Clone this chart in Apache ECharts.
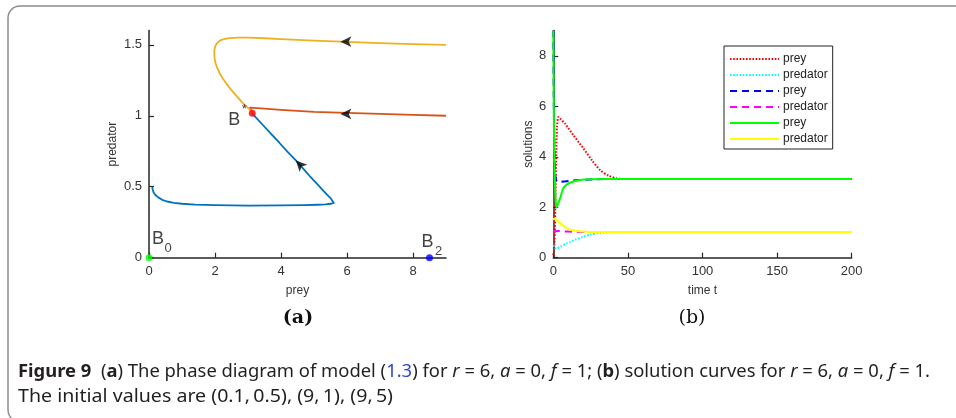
<!DOCTYPE html>
<html>
<head>
<meta charset="utf-8">
<script src="https://cdn.jsdelivr.net/npm/echarts@6/dist/echarts.min.js"></script>
<style>
  html, body { margin: 0; padding: 0; background: #fff; }
  #chart { width: 956px; height: 418px; }
</style>
</head>
<body>
<div id="chart"></div>
<script>
// ---------- (a) phase plane: trajectories as [prey, predator] ----------
const trajectoryLow = [
  [0.1, 0.5], [0.11, 0.48], [0.14, 0.46], [0.2, 0.44], [0.28, 0.425], [0.4, 0.408],
  [0.55, 0.396], [0.75, 0.387], [1.0, 0.38], [1.4, 0.374], [2.0, 0.37], [3.0, 0.367],
  [4.0, 0.368], [4.7, 0.37], [5.1, 0.373], [5.35, 0.376], [5.5, 0.38], [5.6, 0.386],
  [5.63, 0.392], [5.5, 0.42], [5.3, 0.468], [5.1, 0.518], [4.9, 0.567], [4.7, 0.62],
  [4.45, 0.685], [4.2, 0.745], [3.95, 0.81], [3.7, 0.872], [3.45, 0.935], [3.25, 0.985],
  [3.13, 1.018]
];
const trajectoryMid = [
  [9, 1.0], [8, 1.006], [7, 1.013], [6, 1.02], [5, 1.028], [4.5, 1.035], [4, 1.042],
  [3.5, 1.05], [3.06, 1.058], [3.13, 1.018]
];
const trajectoryHigh = [
  [9, 1.5], [8, 1.505], [7, 1.512], [6, 1.52], [5, 1.53], [4, 1.54], [3.5, 1.546],
  [3.0, 1.55], [2.7, 1.55], [2.45, 1.547], [2.3, 1.542], [2.18, 1.533], [2.1, 1.52],
  [2.04, 1.505], [2.0, 1.485], [1.98, 1.46], [1.98, 1.43], [1.99, 1.4], [2.02, 1.37],
  [2.07, 1.335], [2.14, 1.3], [2.23, 1.265], [2.35, 1.225], [2.5, 1.18], [2.65, 1.14],
  [2.8, 1.1], [2.93, 1.07], [3.04, 1.047], [3.13, 1.018]
];
// equilibria B0, B2, B*
const equilibriumPrey = [0, 8.5, 3.13];
const equilibriumPredator = [0, 0, 1.018];
const equilibriumMain = ['B', 'B', 'B'];
const equilibriumMark = ['0', '2', '*'];
// direction arrows along the trajectories
const arrowPrey = [5.8, 5.8, 4.45];
const arrowPredator = [1.522, 1.013, 0.685];
const arrowHeading = [90, 90, 44];

// ---------- (b) solution curves ----------
const timeA = [0, 0.5, 1, 1.5, 2, 2.5, 3.4, 4.5, 7.8, 13.4, 20.2, 25.8, 31.4, 37, 42.6, 50, 60, 200];
const preyA = [0.1, 0.3, 1.0, 2.5, 4.2, 5.2, 5.58, 5.52, 5.32, 4.86, 4.33, 3.87, 3.47, 3.25, 3.14, 3.12, 3.12, 3.12];
const timeA2 = [0, 0.5, 1, 1.5, 2.2, 5, 9, 11.2, 15, 20, 25, 31, 40, 50, 200];
const predatorA = [0.5, 0.45, 0.4, 0.37, 0.36, 0.45, 0.57, 0.62, 0.72, 0.83, 0.92, 0.98, 1.01, 1.02, 1.02];
const timeB = [0, 0.3, 0.6, 1, 1.5, 2.2, 3.4, 7, 11.2, 17, 24.6, 35, 200];
const preyB = [9, 6.5, 4.8, 3.7, 3.2, 3.02, 3.0, 3.02, 3.05, 3.08, 3.1, 3.12, 3.12];
const timeB2 = [0, 1, 2, 4, 7, 10, 15, 20, 200];
const predatorB = [1.0, 1.04, 1.055, 1.055, 1.045, 1.035, 1.025, 1.02, 1.02];
const timeC = [0, 0.3, 0.7, 1.2, 1.7, 2.3, 3, 4.5, 6.7, 9, 11.2, 14, 17.9, 25, 35, 200];
const preyC = [9, 6, 4, 2.8, 2.15, 2.0, 2.1, 2.35, 2.75, 2.9, 2.97, 3.03, 3.08, 3.11, 3.12, 3.12];
const timeC2 = [0, 0.5, 1, 2, 4.5, 7, 9, 12, 15.7, 22.4, 30, 200];
const predatorC = [1.5, 1.54, 1.55, 1.5, 1.37, 1.25, 1.17, 1.1, 1.06, 1.03, 1.02, 1.02];

// tick positions
const phaseXTicks = [0, 2, 4, 6, 8];
const phaseYTicks = [0, 0.5, 1, 1.5];
const timeTicks = [0, 50, 100, 150, 200];
const solutionTicks = [0, 2, 4, 6, 8];

const FONT = 'Liberation Sans, Arial, Helvetica, sans-serif';
const INK = '#262626';

function pairs(xs, ys) { return xs.map((x, i) => [x, ys[i]]); }

function axisStyle(ticks, name, gap) {
  return {
    type: 'value',
    name: name,
    nameLocation: 'middle',
    nameGap: gap,
    nameTextStyle: { fontSize: 12, color: '#333', fontFamily: FONT },
    axisLine: { show: true, onZero: false, lineStyle: { color: INK, width: 1.5 } },
    axisTick: { show: true, inside: true, length: 5, customValues: ticks, lineStyle: { color: INK, width: 1.2 } },
    axisLabel: { show: true, customValues: ticks, fontSize: 13, color: '#333', fontFamily: FONT, margin: 7 },
    splitLine: { show: false }
  };
}

const phaseColors = ['#0072BD', '#D95319', '#EDB120'];
const phaseSeries = [trajectoryLow, trajectoryMid, trajectoryHigh].map((d, i) => ({
  type: 'line', xAxisIndex: 0, yAxisIndex: 0, data: d, showSymbol: false, symbol: 'none',
  smooth: false, lineStyle: { color: phaseColors[i], width: 1.8, join: 'round' }, silent: true, z: 2
}));

const arrowSeries = {
  type: 'scatter', xAxisIndex: 0, yAxisIndex: 0, symbol: 'arrow', symbolSize: [8, 11],
  data: arrowPrey.map((x, i) => ({ value: [x, arrowPredator[i]], symbolRotate: arrowHeading[i] })),
  itemStyle: { color: '#000' }, silent: true, z: 5
};

const pointColors = ['#00ff00', '#0000ff', '#ff0000'];
const mainOffsets = [[9, -19], [-2, -16], [-18, 7]];
const markOffsets = [[19, -9], [9, -6], [-8, -4]];
const markSizes = [13, 13, 13];

const pointSeries = {
  type: 'scatter', xAxisIndex: 0, yAxisIndex: 0, symbol: 'circle', symbolSize: 7, clip: false,
  data: equilibriumPrey.map((x, i) => ({
    value: [x, equilibriumPredator[i]],
    itemStyle: { color: pointColors[i] },
    label: {
      show: true, position: 'inside', offset: mainOffsets[i], formatter: equilibriumMain[i],
      fontSize: 18, color: '#111', fontFamily: FONT, align: 'center', verticalAlign: 'middle'
    }
  })),
  silent: true, z: 6
};
const markSeries = {
  type: 'scatter', xAxisIndex: 0, yAxisIndex: 0, symbol: 'circle', symbolSize: 1, clip: false,
  itemStyle: { color: 'rgba(0,0,0,0)' },
  data: equilibriumPrey.map((x, i) => ({
    value: [x, equilibriumPredator[i]],
    label: {
      show: true, position: 'inside', offset: markOffsets[i], formatter: equilibriumMark[i],
      fontSize: markSizes[i], color: '#111', fontFamily: FONT, align: 'center', verticalAlign: 'middle'
    }
  })),
  silent: true, z: 6
};

const solutionDefs = [
  { name: 'prey (0.1, 0.5)', data: pairs(timeA, preyA), color: '#ff0000', dash: [1.6, 1.6] },
  { name: 'predator (0.1, 0.5)', data: pairs(timeA2, predatorA), color: '#00ffff', dash: [1.6, 1.6] },
  { name: 'prey (9, 1)', data: pairs(timeB, preyB), color: '#0000ff', dash: [7, 5] },
  { name: 'predator (9, 1)', data: pairs(timeB2, predatorB), color: '#ff00ff', dash: [7, 5] },
  { name: 'prey (9, 1.5)', data: pairs(timeC, preyC), color: '#00ff00', dash: 'solid' },
  { name: 'predator (9, 1.5)', data: pairs(timeC2, predatorC), color: '#ffff00', dash: 'solid' }
];
const solutionSeries = solutionDefs.map(s => ({
  type: 'line', name: s.name, xAxisIndex: 1, yAxisIndex: 1, data: s.data,
  showSymbol: false, symbol: 'none', smooth: 0.25,
  lineStyle: { color: s.color, width: 2, type: s.dash }, itemStyle: { color: s.color },
  silent: true
}));

// ---------- caption ----------
const CAPTION_FONT = 'Noto Sans';
const CAPTION_SIZE = 18;
const captionLine1 = [
  ['Figure 9', 'bold'], ['  (', 'n'], ['a', 'bold'], [') The phase diagram of model (', 'n'],
  ['1.3', 'link'], [') for ', 'n'], ['r', 'it'], [' = 6, ', 'n'], ['a', 'it'], [' = 0, ', 'n'],
  ['f', 'it'], [' = 1; (', 'n'], ['b', 'bold'], [') solution curves for ', 'n'],
  ['r', 'it'], [' = 6, ', 'n'], ['a', 'it'], [' = 0, ', 'n'], ['f', 'it'], [' = 1.', 'n']
];
const captionLine2 = [['The initial values are (0.1,\u20090.5), (9,\u20091), (9,\u20095)', 'n']];

function fontFor(st) {
  return (st === 'it' ? 'italic ' : '') + (st === 'bold' ? 'bold ' : '') +
    CAPTION_SIZE + 'px "' + CAPTION_FONT + '"';
}
function measure(segs) {
  const ctx = document.createElement('canvas').getContext('2d');
  let w = 0;
  segs.forEach(([t, st]) => { ctx.font = fontFor(st); w += ctx.measureText(t).width; });
  return w;
}
function richString(segs) {
  return segs.map(([t, st]) => st === 'n' ? t : '{' + st + '|' + t + '}').join('');
}
const captionRich = {
  bold: { fontWeight: 'bold', fontSize: CAPTION_SIZE, fontFamily: CAPTION_FONT, fill: '#231f20' },
  it: { fontStyle: 'italic', fontSize: CAPTION_SIZE, fontFamily: CAPTION_FONT, fill: '#231f20' },
  link: { fontSize: CAPTION_SIZE, fontFamily: CAPTION_FONT, fill: '#2a48d0' }
};
function captionText(segs, y, width) {
  return {
    type: 'text', x: 18, y: y, scaleX: width / measure(segs), silent: true,
    style: {
      text: richString(segs), rich: captionRich, fontSize: CAPTION_SIZE, fontFamily: CAPTION_FONT,
      fill: '#231f20', align: 'left', verticalAlign: 'middle'
    }
  };
}

const option = {
  animation: false,
  backgroundColor: '#fff',
  grid: [
    { left: 149, top: 30.6, width: 297, height: 227.1 },
    { left: 553.3, top: 30.6, width: 298.4, height: 227.1 }
  ],
  xAxis: [
    Object.assign(axisStyle(phaseXTicks, 'prey', 27), { gridIndex: 0, min: 0, max: 9 }),
    Object.assign(axisStyle(timeTicks, 'time t', 27), { gridIndex: 1, min: 0, max: 200 })
  ],
  yAxis: [
    Object.assign(axisStyle(phaseYTicks, 'predator', 30), { gridIndex: 0, min: 0, max: 1.6 }),
    Object.assign(axisStyle(solutionTicks, 'solutions', 19), { gridIndex: 1, min: 0, max: 9 })
  ],
  legend: {
    show: true, orient: 'vertical', left: 724, top: 46, selectedMode: false,
    data: solutionDefs.map(s => s.name),
    formatter: name => name.split(' ')[0],
    itemWidth: 49, itemHeight: 14, itemGap: 4,
    itemStyle: { opacity: 0 },
    padding: [7, 5, 4, 5],
    borderColor: '#222', borderWidth: 1, backgroundColor: '#fff',
    textStyle: { fontSize: 12, color: '#222', fontFamily: FONT, padding: [0, 0, 0, -1] }
  },
  series: [...phaseSeries, arrowSeries, pointSeries, markSeries, ...solutionSeries],
  graphic: [
    {
      type: 'rect', silent: true, z: -1,
      shape: { x: 8, y: 6, width: 1000, height: 416, r: 12 },
      style: { fill: 'none', stroke: '#8c8c8c', lineWidth: 1.5 }
    },
    {
      type: 'text', x: 298, y: 318, silent: true,
      style: { text: '(a)', fontSize: 19, fontWeight: 'bold', fontFamily: 'DejaVu Serif', fill: '#111', align: 'center', verticalAlign: 'middle' }
    },
    {
      type: 'text', x: 692, y: 318, silent: true,
      style: { text: '(b)', fontSize: 19, fontFamily: 'DejaVu Serif', fill: '#111', align: 'center', verticalAlign: 'middle' }
    },
    captionText(captionLine1, 372, 912),
    captionText(captionLine2, 397, 375)
  ]
};

const chart = echarts.init(document.getElementById('chart'));
chart.setOption(option);
</script>
</body>
</html>
